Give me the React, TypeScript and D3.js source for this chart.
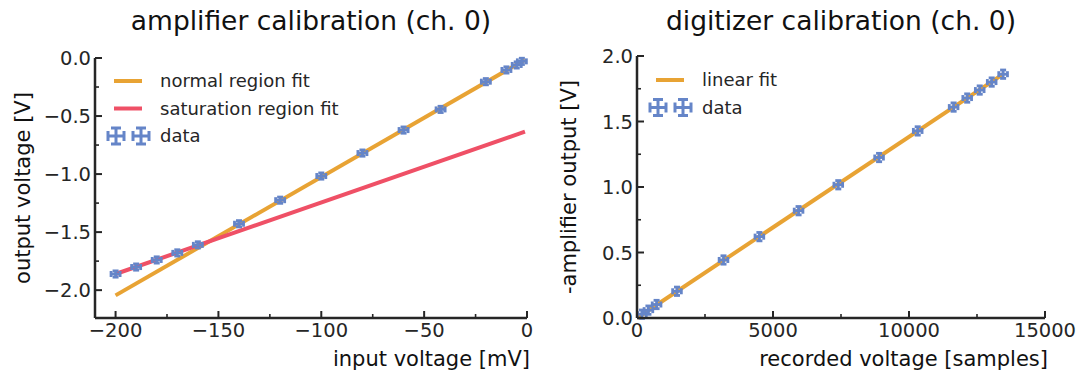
import React from "react";
import * as d3 from "d3";

const W = 1088;
const H = 378;
const FONT = "DejaVu Sans, Verdana, sans-serif";
const INK = "#262626";
const BLUE = "#6585c8";
const ORANGE = "#e8a334";
const RED = "#ef5066";

// amplifier calibration: input [mV] vs output [V]
const ampInput = [-200, -190, -180, -170, -160, -140, -120, -100, -80, -60, -42, -20, -10, -5, -2.5];
const ampOutput = [-1.861, -1.801, -1.74, -1.679, -1.61, -1.428, -1.225, -1.017, -0.819, -0.621, -0.443, -0.204, -0.103, -0.06, -0.029];
const ampInputErr = 2.2;
const ampOutputErr = 0.027;
const normalFit = { slope: 0.0102, intercept: -0.005 };
const saturationFit = { slope: 0.00616, intercept: -0.629 };
const ampFitRange = [-200, -1];
const ampXTicks = [-200, -150, -100, -50, 0];
const ampXMinor = [-175, -125, -75, -25];
const ampYTicks = [0, -0.5, -1, -1.5, -2];
const ampYMinor = [-0.25, -0.75, -1.25, -1.75];

// digitizer calibration: recorded samples vs amplifier output [V]
const digSamples = [180, 420, 720, 1470, 3180, 4500, 5940, 7400, 8900, 10320, 11640, 12140, 12600, 13040, 13460];
const digOutput = [0.029, 0.06, 0.103, 0.204, 0.443, 0.621, 0.819, 1.017, 1.225, 1.428, 1.61, 1.679, 1.74, 1.801, 1.861];
const digSamplesErr = 160;
const digOutputErr = 0.032;
const linearFit = { slope: 0.0001383, intercept: 0 };
const digFitRange = [0, 13460];
const digXTicks = [0, 5000, 10000, 15000];
const digXMinor = [2500, 7500, 12500];
const digYTicks = [0, 0.5, 1, 1.5, 2];
const digYMinor = [0.25, 0.75, 1.25, 1.75];

const fmt1 = d3.format(".1f");
const fmt0 = d3.format("d");
const minus = (s: string) => s.replace("-", "\u2212");

function ErrMark({ cx, cy, dx, dy, cap, w }: { cx: number; cy: number; dx: number; dy: number; cap: number; w: number }) {
  return (
    <g stroke={BLUE} strokeWidth={w} fill="none">
      <line x1={cx - dx} x2={cx + dx} y1={cy} y2={cy} />
      <line x1={cx} x2={cx} y1={cy - dy} y2={cy + dy} />
      <line x1={cx - dx} x2={cx - dx} y1={cy - cap} y2={cy + cap} />
      <line x1={cx + dx} x2={cx + dx} y1={cy - cap} y2={cy + cap} />
      <line x1={cx - cap} x2={cx + cap} y1={cy - dy} y2={cy - dy} />
      <line x1={cx - cap} x2={cx + cap} y1={cy + dy} y2={cy + dy} />
    </g>
  );
}

type Fit = { slope: number; intercept: number; color: string; label: string };

function Panel(props: {
  title: string;
  xLabel: string;
  yLabel: string;
  xDomain: [number, number];
  yDomain: [number, number];
  xRange: [number, number];
  yRange: [number, number];
  xTicks: number[];
  xMinor: number[];
  yTicks: number[];
  yMinor: number[];
  xFmt: (v: number) => string;
  yFmt: (v: number) => string;
  xs: number[];
  ys: number[];
  xErr: number;
  yErr: number;
  fits: Fit[];
  fitRange: number[];
  legendX: number;
  legendY: number;
  yLabelX: number;
}) {
  const x = d3.scaleLinear().domain(props.xDomain).range(props.xRange);
  const y = d3.scaleLinear().domain(props.yDomain).range(props.yRange);
  const [x0, x1] = props.xRange;
  const [yb, yt] = props.yRange;
  const rowH = 27.5;
  const handleX0 = props.legendX;
  const handleX1 = props.legendX + 28;
  const textX = props.legendX + 46;
  const dataRowY = props.legendY + props.fits.length * rowH;
  return (
    <g fontFamily={FONT}>
      <text x={(x0 + x1) / 2} y={30} textAnchor="middle" fontSize={26.5} fill="#111">
        {props.title}
      </text>
      {props.fits.map((f, i) => {
        const path = d3
          .line<number>()
          .x((d) => x(d))
          .y((d) => y(f.slope * d + f.intercept))(props.fitRange);
        return <path key={"f" + i} d={path ?? ""} stroke={f.color} strokeWidth={4} fill="none" />;
      })}
      {props.xs.map((v, i) => {
        const cx = x(v);
        const cy = y(props.ys[i]);
        const dx = Math.abs(x(v + props.xErr) - cx);
        const dy = Math.abs(y(props.ys[i] + props.yErr) - cy);
        return <ErrMark key={i} cx={cx} cy={cy} dx={dx} dy={dy} cap={3} w={2.8} />;
      })}
      {/* spines */}
      <line x1={x0} x2={x0} y1={yt} y2={yb} stroke={INK} strokeWidth={2.5} />
      <line x1={x0} x2={x1} y1={yb} y2={yb} stroke={INK} strokeWidth={2.5} />
      {/* ticks point inward */}
      {props.xTicks.map((v) => (
        <g key={"xt" + v}>
          <line x1={x(v)} x2={x(v)} y1={yb} y2={yb - 7} stroke={INK} strokeWidth={2} />
          <text x={x(v)} y={yb + 19} textAnchor="middle" fontSize={19.5} fill={INK}>
            {props.xFmt(v)}
          </text>
        </g>
      ))}
      {props.xMinor.map((v) => (
        <line key={"xm" + v} x1={x(v)} x2={x(v)} y1={yb} y2={yb - 4} stroke={INK} strokeWidth={1.6} />
      ))}
      {props.yTicks.map((v) => (
        <g key={"yt" + v}>
          <line x1={x0} x2={x0 + 7} y1={y(v)} y2={y(v)} stroke={INK} strokeWidth={2} />
          <text x={x0 - 4} y={y(v)} dy="0.36em" textAnchor="end" fontSize={19.5} fill={INK}>
            {props.yFmt(v)}
          </text>
        </g>
      ))}
      {props.yMinor.map((v) => (
        <line key={"ym" + v} x1={x0} x2={x0 + 4} y1={y(v)} y2={y(v)} stroke={INK} strokeWidth={1.6} />
      ))}
      <text x={x1 + 3} y={366} textAnchor="end" fontSize={21} fill="#111">
        {props.xLabel}
      </text>
      <text
        transform={`translate(${props.yLabelX},${(yt + yb) / 2}) rotate(-90)`}
        textAnchor="middle"
        fontSize={21}
        fill="#111"
      >
        {props.yLabel}
      </text>
      {/* legend */}
      {props.fits.map((f, i) => (
        <g key={"lg" + i}>
          <line
            x1={handleX0}
            x2={handleX1}
            y1={props.legendY + i * rowH}
            y2={props.legendY + i * rowH}
            stroke={f.color}
            strokeWidth={4}
          />
          <text x={textX} y={props.legendY + i * rowH} dy="0.35em" fontSize={18} fill={INK}>
            {f.label}
          </text>
        </g>
      ))}
      <g>
        <ErrMark cx={handleX0 + 2} cy={dataRowY} dx={8} dy={8} cap={5} w={3} />
        <ErrMark cx={handleX1 - 1} cy={dataRowY} dx={8} dy={8} cap={5} w={3} />
        <text x={textX} y={dataRowY} dy="0.35em" fontSize={18} fill={INK}>
          data
        </text>
      </g>
    </g>
  );
}

export default function App() {
  return (
    <svg width={W} height={H} style={{ display: "block", position: "absolute", left: 0, top: 0, background: "#fff" }}>
      <rect width={W} height={H} fill="#fff" />
      <Panel
        title="amplifier calibration (ch. 0)"
        xLabel="input voltage [mV]"
        yLabel="output voltage [V]"
        xDomain={[-210, 0]}
        yDomain={[-2.24, 0]}
        xRange={[95, 527]}
        yRange={[318, 58]}
        xTicks={ampXTicks}
        xMinor={ampXMinor}
        yTicks={ampYTicks}
        yMinor={ampYMinor}
        xFmt={(v) => minus(fmt0(v))}
        yFmt={(v) => minus(fmt1(v))}
        xs={ampInput}
        ys={ampOutput}
        xErr={ampInputErr}
        yErr={ampOutputErr}
        fits={[
          { ...normalFit, color: ORANGE, label: "normal region fit" },
          { ...saturationFit, color: RED, label: "saturation region fit" },
        ]}
        fitRange={ampFitRange}
        legendX={114}
        legendY={81}
        yLabelX={30}
      />
      <Panel
        title="digitizer calibration (ch. 0)"
        xLabel="recorded voltage [samples]"
        yLabel="-amplifier output [V]"
        xDomain={[0, 15000]}
        yDomain={[0, 2]}
        xRange={[637, 1045]}
        yRange={[318, 56]}
        xTicks={digXTicks}
        xMinor={digXMinor}
        yTicks={digYTicks}
        yMinor={digYMinor}
        xFmt={(v) => fmt0(v)}
        yFmt={(v) => fmt1(v)}
        xs={digSamples}
        ys={digOutput}
        xErr={digSamplesErr}
        yErr={digOutputErr}
        fits={[{ ...linearFit, color: ORANGE, label: "linear fit" }]}
        fitRange={digFitRange}
        legendX={656}
        legendY={80}
        yLabelX={576}
      />
    </svg>
  );
}
